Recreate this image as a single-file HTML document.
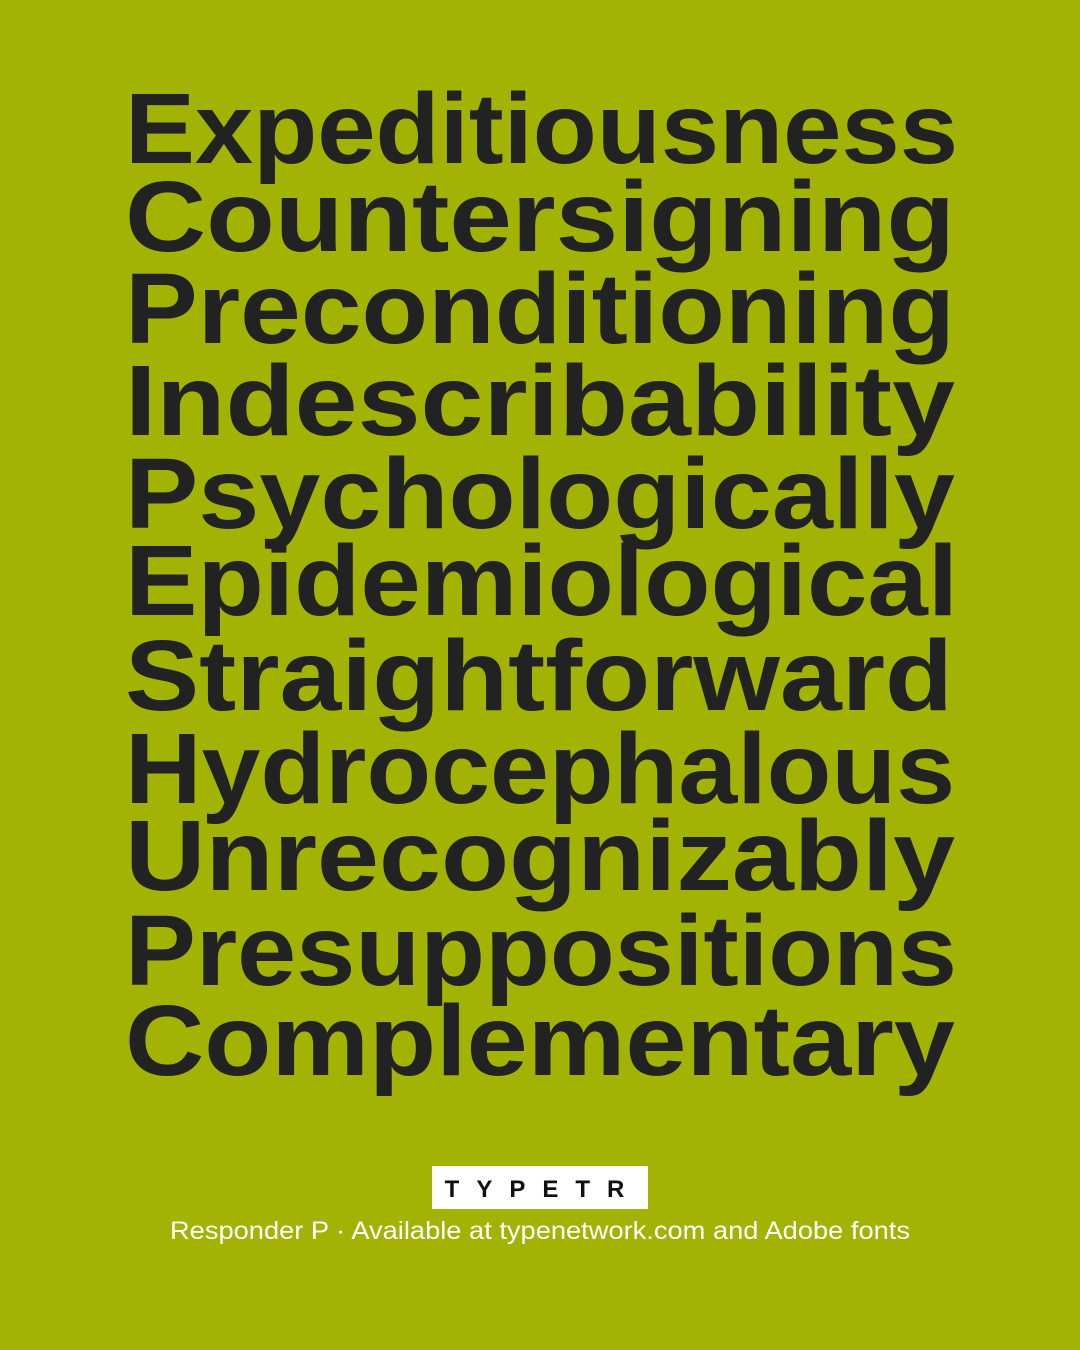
<!DOCTYPE html>
<html><head><meta charset="utf-8">
<style>
html,body{margin:0;padding:0;background:#a3b304;}
svg{display:block;}
</style></head>
<body>
<svg width="1080" height="1350" viewBox="0 0 1080 1350" xmlns="http://www.w3.org/2000/svg">
<rect x="0" y="0" width="1080" height="1350" fill="#a3b304"/>
<g font-family="'Liberation Sans', sans-serif" font-weight="bold" font-size="100" fill="#222222">
<text x="125" y="163" textLength="833" lengthAdjust="spacingAndGlyphs">Expeditiousness</text>
<text x="125" y="251" textLength="830" lengthAdjust="spacingAndGlyphs">Countersigning</text>
<text x="125" y="343" textLength="830" lengthAdjust="spacingAndGlyphs">Preconditioning</text>
<text x="125" y="435" textLength="830" lengthAdjust="spacingAndGlyphs">Indescribability</text>
<text x="125" y="528" textLength="830" lengthAdjust="spacingAndGlyphs">Psychologically</text>
<text x="125" y="615" textLength="833" lengthAdjust="spacingAndGlyphs">Epidemiological</text>
<text x="125" y="710" textLength="828" lengthAdjust="spacingAndGlyphs">Straightforward</text>
<text x="125" y="803" textLength="830" lengthAdjust="spacingAndGlyphs">Hydrocephalous</text>
<text x="125" y="890" textLength="830" lengthAdjust="spacingAndGlyphs">Unrecognizably</text>
<text x="125" y="985" textLength="832" lengthAdjust="spacingAndGlyphs">Presuppositions</text>
<text x="125" y="1075" textLength="830" lengthAdjust="spacingAndGlyphs">Complementary</text>
</g>
<rect x="432" y="1166" width="216" height="43" fill="#ffffff"/>
<text x="543" y="1197" text-anchor="middle" font-family="'Liberation Sans', sans-serif" font-weight="bold" font-size="24" letter-spacing="17" fill="#111111">TYPETR</text>
<text x="540" y="1239" text-anchor="middle" font-family="'Liberation Sans', sans-serif" font-size="25" fill="#ffffff" textLength="740" lengthAdjust="spacingAndGlyphs">Responder P · Available at typenetwork.com and Adobe fonts</text>
</svg>
</body></html>
